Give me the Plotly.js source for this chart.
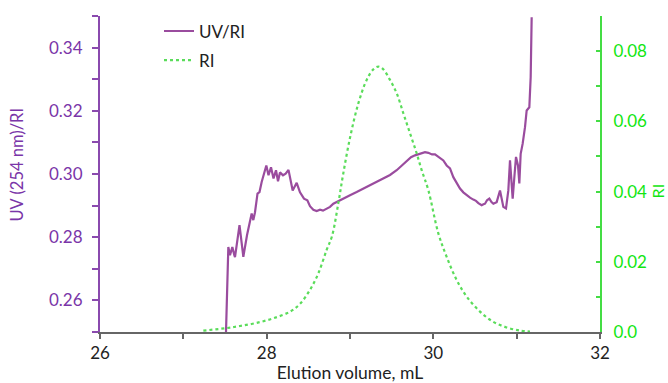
<!DOCTYPE html>
<html>
<head>
<meta charset="utf-8">
<script src="https://cdn.plot.ly/plotly-3.0.1.min.js"></script>
<style>
  html, body { margin: 0; padding: 0; background: #ffffff; }
  #chart { width: 668px; height: 383px; }
</style>
</head>
<body>
<div id="chart"></div>
<script>
// Elution volume (mL) and UV(254 nm)/RI ratio
const uvVolume = [
  27.512, 27.54, 27.56, 27.588, 27.612, 27.62, 27.674, 27.72, 27.764, 27.82,
  27.84, 27.86, 27.89, 27.914, 27.94, 27.962, 27.996, 28.022, 28.052, 28.082,
  28.112, 28.136, 28.16, 28.196, 28.228, 28.262, 28.312, 28.36, 28.40, 28.448,
  28.488, 28.52, 28.56, 28.60, 28.64, 28.676, 28.72, 28.76, 28.80, 28.856,
  28.92, 29.00, 29.08, 29.156, 29.24, 29.324, 29.40, 29.48, 29.56, 29.62,
  29.68, 29.732, 29.78, 29.84, 29.90, 29.94, 29.984, 30.02, 30.068, 30.12,
  30.16, 30.20, 30.24, 30.278, 30.32, 30.36, 30.40, 30.44, 30.48, 30.512,
  30.54, 30.58, 30.602, 30.62, 30.644, 30.672, 30.698, 30.72, 30.76, 30.782,
  30.80, 30.824, 30.84, 30.872, 30.90, 30.92, 30.952, 30.974, 30.992, 31.016,
  31.032, 31.048, 31.072, 31.10, 31.12, 31.152, 31.168, 31.18
];
const uvRatio = [
  0.2500, 0.2769, 0.2743, 0.2769, 0.2743, 0.2737, 0.2838, 0.2738, 0.2806, 0.2875,
  0.2854, 0.2879, 0.2938, 0.2943, 0.2975, 0.2996, 0.3027, 0.2996, 0.3021, 0.2986,
  0.3012, 0.2977, 0.3005, 0.2996, 0.3001, 0.3013, 0.2948, 0.2972, 0.2942, 0.2922,
  0.2917, 0.2898, 0.2887, 0.2883, 0.2887, 0.2884, 0.2891, 0.2896, 0.2906, 0.2914,
  0.2922, 0.2933, 0.2943, 0.2953, 0.2964, 0.2974, 0.2985, 0.2997, 0.3012, 0.3027,
  0.3043, 0.3053, 0.3059, 0.3065, 0.3069, 0.3067, 0.3062, 0.3062, 0.3053, 0.3043,
  0.3027, 0.3018, 0.2990, 0.2972, 0.2954, 0.2942, 0.2933, 0.2925, 0.2919, 0.2915,
  0.2908, 0.2901, 0.2904, 0.2906, 0.2917, 0.2922, 0.2911, 0.2906, 0.2911, 0.2929,
  0.2948, 0.2917, 0.2896, 0.2891, 0.2948, 0.3043, 0.2922, 0.2996, 0.3054, 0.3027,
  0.2970, 0.3064, 0.3096, 0.3148, 0.3201, 0.3211, 0.3306, 0.3496
];

// Elution volume (mL) and refractive index signal
const riVolume = [
  27.24, 27.512, 27.68, 27.88, 28.08, 28.28, 28.40, 28.52, 28.62, 28.72,
  28.784, 28.86, 28.916, 29.00, 29.10, 29.20, 29.28, 29.34, 29.40, 29.48,
  29.56, 29.64, 29.72, 29.80, 29.86, 29.94, 30.06, 30.16, 30.28, 30.40,
  30.56, 30.72, 30.88, 31.04, 31.16
];
const riSignal = [
  0.0004, 0.0011, 0.0017, 0.0026, 0.0039, 0.0058, 0.0080, 0.0120, 0.0167, 0.0234,
  0.0273, 0.0367, 0.0447, 0.0553, 0.0651, 0.0718, 0.0748, 0.0756, 0.0748, 0.0718,
  0.0680, 0.0623, 0.0566, 0.0509, 0.0461, 0.0404, 0.0281, 0.0214, 0.0148, 0.0101,
  0.0058, 0.0029, 0.0013, 0.0004, 0.0001
];

const xTicks = [26, 28, 30, 32];
const leftTicks = [0.26, 0.28, 0.30, 0.32, 0.34];
const rightTicks = [0.0, 0.02, 0.04, 0.06, 0.08];

const FONT = 'Lato, "Open Sans", sans-serif';
const PURPLE_TEXT = '#7A35A8';
const PURPLE_LINE = '#9A4C9E';
const GREEN_TEXT = '#12E612';
const GREEN_LINE = '#5ADC5A';

const traces = [
  {
    x: uvVolume, y: uvRatio, name: 'UV/RI', type: 'scatter', mode: 'lines',
    legendgroup: 'uv',
    line: { color: PURPLE_LINE, width: 2.2 }, yaxis: 'y'
  },
  {
    x: riVolume, y: riSignal, name: 'RI', type: 'scatter', mode: 'lines',
    legendgroup: 'ri',
    line: { color: GREEN_LINE, width: 2.2, dash: 'dot', shape: 'spline' }, yaxis: 'y2'
  }
];

const layout = {
  width: 668, height: 383,
  margin: { l: 100, r: 68, t: 16, b: 51 },
  paper_bgcolor: '#ffffff', plot_bgcolor: '#ffffff',
  font: { family: FONT, size: 17, color: '#222222' },
  showlegend: true,
  legend: {
    x: 0.118, y: 1.008, xanchor: 'left', yanchor: 'top',
    bgcolor: 'rgba(0,0,0,0)', font: { size: 17, color: '#222222' },
    tracegroupgap: 4
  },
  xaxis: {
    range: [26, 32], tickvals: xTicks, ticktext: xTicks.map(String),
    showgrid: false, zeroline: false,
    showline: true, linecolor: '#666666', linewidth: 2,
    ticks: 'outside', ticklen: 5, tickwidth: 2, tickcolor: '#666666',
    minor: { dtick: 1, ticks: 'outside', ticklen: 5, tickwidth: 2, tickcolor: '#666666' },
    tickfont: { size: 17, color: '#222222' },
    title: { text: 'Elution volume, mL', font: { size: 17.5, color: '#222222' }, standoff: 4 }
  },
  yaxis: {
    range: [0.25, 0.35], tickvals: leftTicks, ticktext: leftTicks.map(v => v.toFixed(2)),
    showgrid: false, zeroline: false,
    showline: true, linecolor: '#8A4AAE', linewidth: 2,
    ticks: 'outside', ticklen: 6, tickwidth: 2, tickcolor: '#8A4AAE',
    minor: { dtick: 0.01, ticks: 'outside', ticklen: 6, tickwidth: 2, tickcolor: '#8A4AAE' },
    tickfont: { size: 17, color: PURPLE_TEXT },
    ticklabelstandoff: 6
  },
  yaxis2: {
    range: [0, 0.09], tickvals: rightTicks, ticktext: ['0.0', '0.02', '0.04', '0.06', '0.08'],
    overlaying: 'y', side: 'right', anchor: 'x',
    showgrid: false, zeroline: false,
    showline: true, linecolor: '#44DD44', linewidth: 2,
    ticks: 'inside', ticklen: 4, tickwidth: 2, tickcolor: '#44DD44',
    minor: { dtick: 0.01, ticks: 'inside', ticklen: 4, tickwidth: 2, tickcolor: '#44DD44' },
    tickfont: { size: 17, color: GREEN_TEXT },
    ticklabelstandoff: 8
  },
  annotations: [
    {
      text: 'UV (254 nm)/RI', xref: 'paper', yref: 'paper',
      x: -0.166, y: 0.53, xanchor: 'center', yanchor: 'middle',
      textangle: -90, showarrow: false, font: { size: 16.5, color: PURPLE_TEXT }
    },
    {
      text: 'RI', xref: 'paper', yref: 'paper',
      x: 1.114, y: 0.445, xanchor: 'center', yanchor: 'middle',
      textangle: -90, showarrow: false, font: { size: 16, color: GREEN_TEXT }
    }
  ]
};

Plotly.newPlot('chart', traces, layout, { displayModeBar: false, staticPlot: true });
</script>
</body>
</html>
